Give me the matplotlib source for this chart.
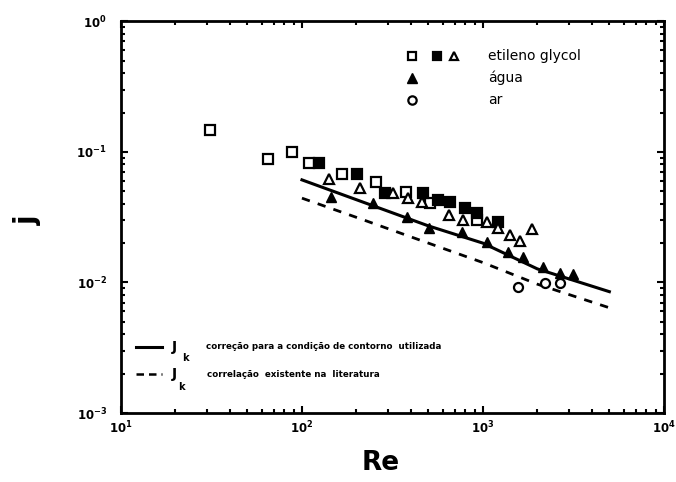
import math
import matplotlib
matplotlib.use("Agg")
import matplotlib.pyplot as plt
from matplotlib.ticker import FuncFormatter, LogLocator
from matplotlib.lines import Line2D

plt.rcParams['font.family'] = ['DejaVu Sans']

# etileno glycol, open squares
eg_open_re = [31, 65, 88, 109, 166, 256, 376, 509, 926]
eg_open_j = [0.147, 0.088, 0.0995, 0.082, 0.0675, 0.0586, 0.0492, 0.0405, 0.030]
# etileno glycol, filled squares
eg_fill_re = [124, 201, 288, 467, 564, 657, 796, 927, 1211]
eg_fill_j = [0.082, 0.0675, 0.0483, 0.0483, 0.0427, 0.0412, 0.0371, 0.034, 0.029]
# etileno glycol, open triangles
eg_tri_re = [141, 209, 318, 385, 461, 649, 777, 1052, 1211, 1409, 1600, 1865]
eg_tri_j = [0.0618, 0.0527, 0.0483, 0.0442, 0.0412, 0.0328, 0.030, 0.029, 0.026,
            0.0231, 0.0207, 0.0256]
# água, filled triangles
agua_re = [145, 247, 380, 503, 765, 1052, 1374, 1664, 2144, 2660, 3140]
agua_j = [0.045, 0.0405, 0.0316, 0.0261, 0.0243, 0.0204, 0.0171, 0.0156, 0.0131,
          0.0118, 0.0116]
# ar, open circles
ar_re = [1560, 2200, 2660]
ar_j = [0.0092, 0.0099, 0.0099]

# correlation curves
curve_re = [100, 200, 500, 1000, 2000, 5000]
jk_corr = [0.061, 0.043, 0.0271, 0.020, 0.0127, 0.0085]
jk_lit = [0.0442, 0.0315, 0.020, 0.0142, 0.0097, 0.0064]

fig = plt.figure(figsize=(6.76, 4.82), dpi=100)
ax = fig.add_axes([0.179, 0.143, 0.803, 0.813])
ax.set_xscale('log')
ax.set_yscale('log')
ax.set_xlim(10, 1e4)
ax.set_ylim(1e-3, 1)

ms = 6.5
mew = 1.6
ax.plot(curve_re, jk_corr, '-', color='black', lw=2.2)
ax.plot(curve_re, jk_lit, '--', color='black', lw=2.0, dashes=(3, 3))
ax.plot(eg_open_re, eg_open_j, 's', ms=ms, mfc='white', mec='black', mew=mew, ls='none')
ax.plot(eg_fill_re, eg_fill_j, 's', ms=ms, mfc='black', mec='black', mew=mew, ls='none')
ax.plot(eg_tri_re, eg_tri_j, '^', ms=ms + 0.5, mfc='white', mec='black', mew=mew, ls='none')
ax.plot(agua_re, agua_j, '^', ms=ms + 1, mfc='black', mec='black', mew=1, ls='none')
ax.plot(ar_re, ar_j, 'o', ms=ms, mfc='white', mec='black', mew=mew, ls='none')

for side in ax.spines.values():
    side.set_linewidth(2.0)

ax.xaxis.set_major_locator(LogLocator(base=10, numticks=10))
ax.yaxis.set_major_locator(LogLocator(base=10, numticks=10))
ax.xaxis.set_minor_locator(LogLocator(base=10, subs=range(2, 10), numticks=20))
ax.yaxis.set_minor_locator(LogLocator(base=10, subs=range(2, 10), numticks=20))
fmt = FuncFormatter(lambda v, p: r'$\mathbf{10^{%d}}$' % round(math.log10(v)))
ax.xaxis.set_major_formatter(fmt)
ax.yaxis.set_major_formatter(fmt)
ax.tick_params(which='both', direction='in', top=True, right=True, width=1.5)
ax.tick_params(which='major', length=5, labelsize=8.5)
ax.tick_params(axis='y', which='major', pad=10)
ax.tick_params(axis='x', which='major', pad=5)
ax.tick_params(which='minor', length=3)

# axis titles
fig.text(381 / 676, 1 - 463 / 482, 'Re', fontsize=19, fontweight='bold',
         ha='center', va='center')
fig.text(28 / 676, 1 - 220 / 482, 'j', fontsize=20, fontweight='bold',
         rotation=90, ha='center', va='center')

# top-right legend
tr = ax.transAxes
row_y = [0.912, 0.855, 0.799]
ax.plot([0.536], [row_y[0]], 's', ms=6, mfc='white', mec='black', mew=mew, transform=tr)
ax.plot([0.582], [row_y[0]], 's', ms=6, mfc='black', mec='black', mew=mew, transform=tr)
ax.plot([0.614], [row_y[0]], '^', ms=6, mfc='white', mec='black', mew=mew, transform=tr)
ax.plot([0.536], [row_y[1]], '^', ms=6.5, mfc='black', mec='black', mew=1, transform=tr)
ax.plot([0.536], [row_y[2]], 'o', ms=6, mfc='white', mec='black', mew=mew, transform=tr)
for y, label in zip(row_y, ['etileno glycol', 'água', 'ar']):
    ax.text(0.676, y, label, transform=tr, fontsize=10, va='center', ha='left')

# bottom-left legend
ax.add_line(Line2D([0.027, 0.076], [0.168, 0.168], color='black', lw=2.2, transform=tr))
ax.add_line(Line2D([0.027, 0.076], [0.1, 0.1], color='black', lw=1.8, ls='--',
                   dashes=(3, 2), transform=tr))
ax.text(0.094, 0.168, 'J', transform=tr, fontsize=10, fontweight='bold', va='center')
ax.text(0.112, 0.14, 'k', transform=tr, fontsize=7, fontweight='bold', va='center')
ax.text(0.094, 0.1, 'J', transform=tr, fontsize=10, fontweight='bold', va='center')
ax.text(0.106, 0.067, 'k', transform=tr, fontsize=7, fontweight='bold', va='center')
ax.text(0.156, 0.17, 'correção para a condição de contorno  utilizada', transform=tr,
        fontsize=6.3, fontweight='bold', va='center')
ax.text(0.158, 0.098, 'correlação  existente na  literatura', transform=tr,
        fontsize=6.3, fontweight='bold', va='center')

fig.savefig('out.png', dpi=100)
